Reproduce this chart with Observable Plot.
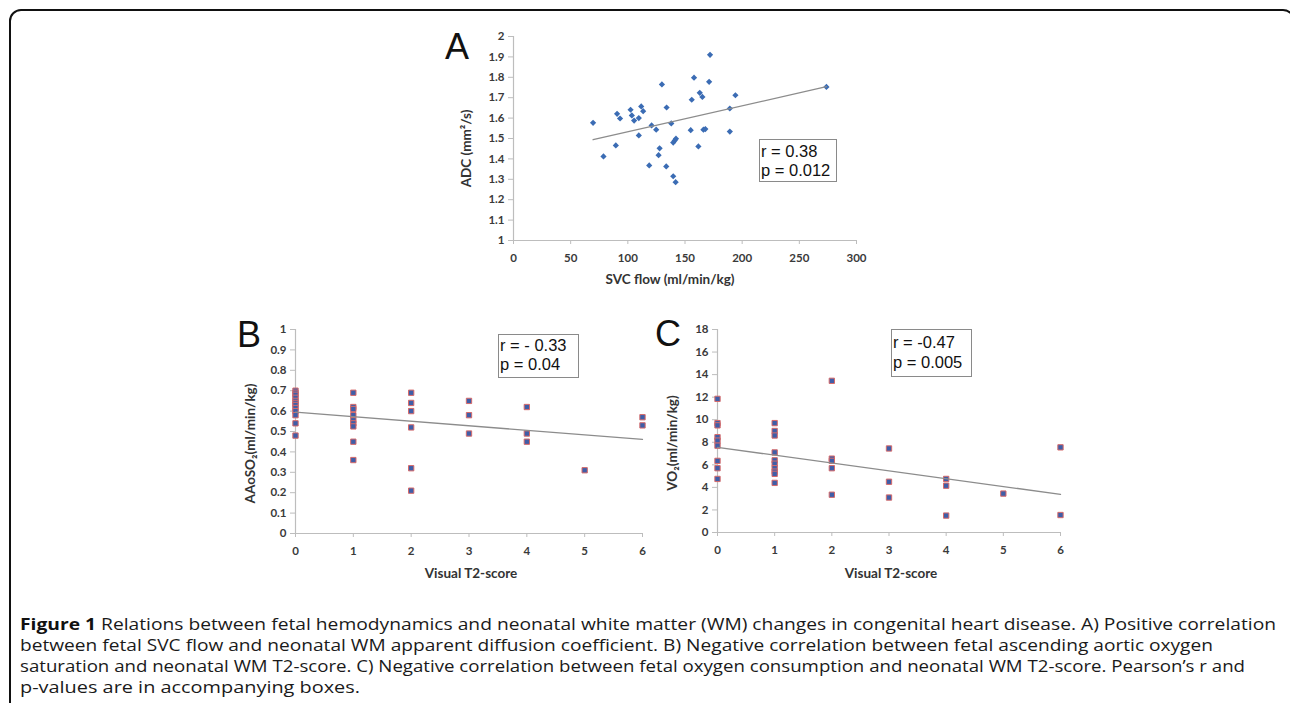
<!DOCTYPE html>
<html>
<head>
<meta charset="utf-8">
<script src="https://cdn.jsdelivr.net/npm/d3@7"></script>
<script src="https://cdn.jsdelivr.net/npm/@observablehq/plot@0.6"></script>
<style>
html, body { margin: 0; padding: 0; background: #fff; }
#page { position: relative; width: 1290px; height: 703px; overflow: hidden; background: #fff; }
#frame { position: absolute; left: 9px; top: 9px; width: 1286px; height: 760px; border: 2px solid #111; border-radius: 12px; box-sizing: border-box; }
.panel { position: absolute; }
.panel svg { max-width: none !important; overflow: visible; background: transparent; }
.panel svg g[aria-label$="tick label"] text, .panel svg g[aria-label$="tick label"] { font-weight: bold; }
.stat { position: absolute; box-sizing: border-box; border: 1px solid #8a8a8a; background: #fff; color: #111;
        font-family: "Liberation Sans", Arial, sans-serif; font-size: 16.5px; line-height: 19px; padding-left: 1px; white-space: nowrap; }
#letters { position: absolute; left: 0; top: 0; pointer-events: none; }
.capline { position: absolute; left: 20px; white-space: nowrap; transform-origin: 0 0;
           font-family: "Open Sans", "Noto Sans", sans-serif; font-size: 15.5px; line-height: 21px; color: #1a1a1a; }
.capline b { font-weight: 700; color: #111; }
</style>
</head>
<body>
<div id="page">
  <div id="frame"></div>
  <div id="panelA" class="panel" style="left:400px;top:20px"></div>
  <div id="panelB" class="panel" style="left:190px;top:315px"></div>
  <div id="panelC" class="panel" style="left:650px;top:315px"></div>
  <div class="stat" style="left:759px;top:139px;width:78px;height:43px;padding-top:2px">r = 0.38<br>p = 0.012</div>
  <div class="stat" style="left:498px;top:334px;width:81px;height:44px;padding-top:1px">r = - 0.33<br>p = 0.04</div>
  <div class="stat" style="left:891px;top:329px;width:81px;height:48px;padding-top:2px;line-height:20px">r = -0.47<br>p = 0.005</div>
  <svg id="letters" width="1290" height="703" style="font-family:'Liberation Sans',Arial,sans-serif;font-size:36px;fill:#111">
    <text x="445" y="59">A</text>
    <text x="237" y="347">B</text>
    <text x="655" y="346">C</text>
  </svg>
  <div id="caption"></div>
</div>
<script>
// ---------- Panel A data: SVC flow (ml/min/kg) vs ADC (mm²/s) ----------
const aFlow = [69.6, 78.7, 89.5, 90.6, 93.2, 102.4, 103.5, 105.5, 109.6, 111.7, 113.4, 109.6, 120.8, 124.8,
               129.8, 133.9, 138.0, 127.8, 126.9, 118.7, 133.6, 139.7, 141.8, 139.7, 141.0, 142.1, 155.0, 161.7,
               155.9, 157.9, 162.9, 165.2, 166.1, 167.8, 171.1, 171.9, 189.2, 189.2, 194.1, 273.7];
const aADC  = [1.577, 1.412, 1.466, 1.621, 1.598, 1.641, 1.613, 1.588, 1.600, 1.657, 1.634, 1.515, 1.564, 1.543,
               1.765, 1.652, 1.574, 1.452, 1.418, 1.368, 1.363, 1.315, 1.286, 1.480, 1.490, 1.499, 1.541, 1.461,
               1.690, 1.798, 1.724, 1.704, 1.543, 1.546, 1.778, 1.910, 1.647, 1.534, 1.712, 1.753];
const aTrendX = [69.6, 273.7];
const aTrendY = [1.494, 1.754];
const aXTicks = [0, 50, 100, 150, 200, 250, 300];
const aYTicks = [1, 1.1, 1.2, 1.3, 1.4, 1.5, 1.6, 1.7, 1.8, 1.9, 2];

// ---------- Panel B data: Visual T2-score vs AAoSO2 ----------
const bScore = [0,0,0,0,0,0,0,0,0,0,0,0, 1,1,1,1,1,1,1,1,1, 2,2,2,2,2,2, 3,3,3, 4,4,4, 5, 6,6];
const bSat   = [0.70,0.69,0.68,0.665,0.65,0.64,0.63,0.615,0.60,0.58,0.54,0.48,
                0.69,0.62,0.61,0.58,0.555,0.54,0.525,0.45,0.36,
                0.69,0.64,0.60,0.52,0.32,0.21,
                0.65,0.58,0.49,
                0.62,0.49,0.45,
                0.31,
                0.57,0.53];
const bTrendX = [0, 6];
const bTrendY = [0.595, 0.461];
const bXTicks = [0, 1, 2, 3, 4, 5, 6];
const bYTicks = [0, 0.1, 0.2, 0.3, 0.4, 0.5, 0.6, 0.7, 0.8, 0.9, 1];

// ---------- Panel C data: Visual T2-score vs VO2 ----------
const cScore = [0,0,0,0,0,0,0,0,0, 1,1,1,1,1,1,1,1,1,1, 2,2,2,2,2, 3,3,3, 4,4,4, 5, 6,6];
const cVO2   = [11.85,9.7,9.5,8.45,8.15,7.7,6.35,5.7,4.75,
                9.7,9.0,8.6,7.1,6.4,6.1,5.7,5.4,5.2,4.4,
                13.45,6.55,6.35,5.7,3.35,
                7.45,4.5,3.1,
                4.75,4.15,1.5,
                3.45,
                7.55,1.55];
const cTrendX = [0, 6];
const cTrendY = [7.55, 3.38];
const cXTicks = [0, 1, 2, 3, 4, 5, 6];
const cYTicks = [0, 2, 4, 6, 8, 10, 12, 14, 16, 18];

// ---------- Text ----------
const titles = {
  aX: "SVC flow (ml/min/kg)", aY: "ADC (mm\u00B2/s)",
  bX: "Visual T2-score", bY: "AAoSO\u2082(ml/min/kg)",
  cX: "Visual T2-score", cY: "VO\u2082(ml/min/kg)"
};
const captionLines = [
  ["Figure 1", " Relations between fetal hemodynamics and neonatal white matter (WM) changes in congenital heart disease. A) Positive correlation"],
  ["", "between fetal SVC flow and neonatal WM apparent diffusion coefficient. B) Negative correlation between fetal ascending aortic oxygen"],
  ["", "saturation and neonatal WM T2-score. C) Negative correlation between fetal oxygen consumption and neonatal WM T2-score. Pearson\u2019s r and"],
  ["", "p-values are in accompanying boxes."]
];
const captionWidths = [1256, 1193, 1225, 340];

// ---------- Build tables ----------
const zip = (xs, ys) => xs.map((x, i) => ({x, y: ys[i]}));
const aData = zip(aFlow, aADC), aTrend = zip(aTrendX, aTrendY);
const bData = zip(bScore, bSat), bTrend = zip(bTrendX, bTrendY);
const cData = zip(cScore, cVO2), cTrend = zip(cTrendX, cTrendY);

const axisColor = "#bdbdbd";
const tickText = "#3a3a3a";
const font = "Lato, 'Open Sans', sans-serif";
const fmt = d => String(d);

function panel({width, height, margins, xDomain, yDomain, xTicks, yTicks, data, trend, dot, xTitle, yTitle, xTitleDx, xTitleDy, yTitleDx, yTitleDy}) {
  return Plot.plot({
    width, height,
    marginLeft: margins[0], marginRight: margins[1], marginTop: margins[2], marginBottom: margins[3],
    x: {domain: xDomain},
    y: {domain: yDomain},
    style: {fontFamily: font, background: "transparent", overflow: "visible"},
    marks: [
      Plot.ruleX([xDomain[0]], {stroke: axisColor, strokeWidth: 1.2}),
      Plot.ruleY([yDomain[0]], {stroke: axisColor, strokeWidth: 1.2}),
      Plot.axisX({ticks: xTicks, tickFormat: fmt, tickSize: 4, tickPadding: 9, stroke: axisColor, fill: tickText,
                  fontSize: 11.5, fontWeight: "bold", label: null}),
      Plot.axisY({ticks: yTicks, tickFormat: fmt, tickSize: 5, tickPadding: 4, stroke: axisColor, fill: tickText,
                  fontSize: 11.5, fontWeight: "bold", label: null}),
      Plot.dot(data, {x: "x", y: "y", ...dot}),
      Plot.line(trend, {x: "x", y: "y", stroke: "#8c8c8c", strokeWidth: 1.3}),
      Plot.text([xTitle], {text: d => d, frameAnchor: "bottom", textAnchor: "middle", lineAnchor: "middle",
                           dx: xTitleDx, dy: xTitleDy, fontSize: 13.5, fontWeight: "bold", fill: "#333"}),
      Plot.text([yTitle], {text: d => d, frameAnchor: "left", textAnchor: "middle", lineAnchor: "middle", rotate: -90,
                           dx: yTitleDx, dy: yTitleDy, fontSize: 13.5, fontWeight: "bold", fill: "#333"})
    ]
  });
}

const diamond = {symbol: "diamond2", r: 2.8, fill: "#3b6cb4", stroke: "none"};
const square = {symbol: "square", r: 3.0, fill: "#3f5ea8", stroke: "#d66a6a", strokeWidth: 1};

document.getElementById("panelA").appendChild(panel({
  width: 480, height: 280, margins: [113, 24, 16, 60],
  xDomain: [0, 300], yDomain: [1, 2], xTicks: aXTicks, yTicks: aYTicks,
  data: aData, trend: aTrend, dot: diamond,
  xTitle: titles.aX, yTitle: titles.aY, xTitleDx: -15, xTitleDy: 39, yTitleDx: -47, yTitleDy: 10
}));
document.getElementById("panelB").appendChild(panel({
  width: 470, height: 275, margins: [105, 18, 14, 57],
  xDomain: [0, 6], yDomain: [0, 1], xTicks: bXTicks, yTicks: bYTicks,
  data: bData, trend: bTrend, dot: square,
  xTitle: titles.bX, yTitle: titles.bY, xTitleDx: 2, xTitleDy: 40, yTitleDx: -45, yTitleDy: 12
}));
document.getElementById("panelC").appendChild(panel({
  width: 470, height: 275, margins: [67, 60, 14, 58],
  xDomain: [0, 6], yDomain: [0, 18], xTicks: cXTicks, yTicks: cYTicks,
  data: cData, trend: cTrend, dot: square,
  xTitle: titles.cX, yTitle: titles.cY, xTitleDx: 2, xTitleDy: 41, yTitleDx: -45, yTitleDy: 12
}));

// ---------- Caption ----------
const cap = document.getElementById("caption");
captionLines.forEach(([bold, rest], i) => {
  const div = document.createElement("div");
  div.className = "capline";
  div.style.top = (614 + i * 21) + "px";
  const span = document.createElement("span");
  span.style.display = "inline-block";
  if (bold) { const b = document.createElement("b"); b.textContent = bold; span.appendChild(b); }
  span.appendChild(document.createTextNode(rest));
  div.appendChild(span);
  cap.appendChild(div);
  const w = span.getBoundingClientRect().width;
  div.style.transform = `scaleX(${captionWidths[i] / w})`;
});
</script>
</body>
</html>
